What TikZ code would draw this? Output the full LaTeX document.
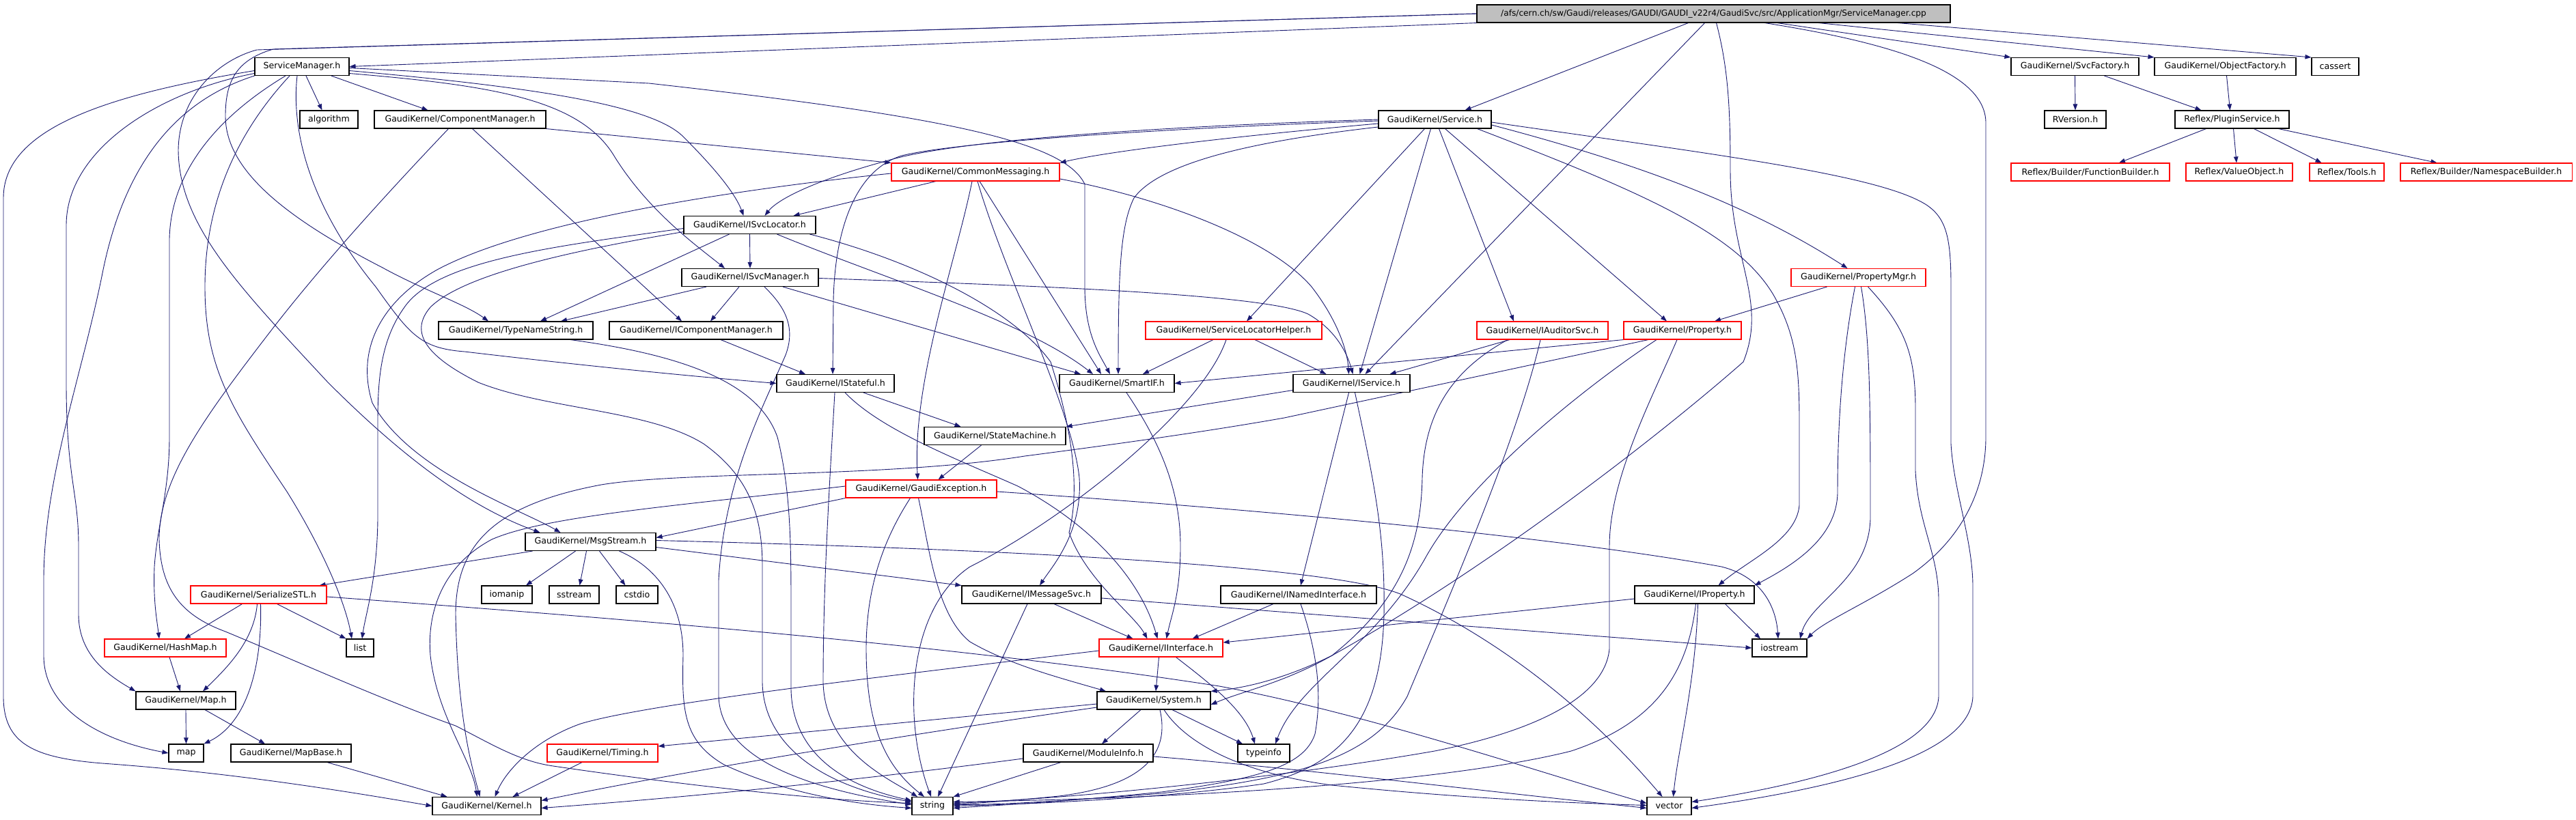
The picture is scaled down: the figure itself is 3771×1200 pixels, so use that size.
\documentclass[tikz,border=0pt]{standalone}
\usepackage{fontspec}
\setmainfont{DejaVu Sans}
\usetikzlibrary{arrows.meta, backgrounds}
\definecolor{edgeblue}{HTML}{191970}
\definecolor{rootgray}{HTML}{BFBFBF}

\begin{document}
\begin{tikzpicture}[
    x=1pt, y=-1pt,
    >={Triangle[length=9pt,width=6.5pt]},
    hdr/.style={draw=black, line width=1.1pt, fill=white, inner sep=0pt,
                minimum height=26pt, font=\fontsize{12.6}{14}\selectfont},
    miss/.style={hdr, draw=red},
    src/.style={hdr, fill=rootgray, font=\fontsize{12.2}{14}\selectfont},
    inc/.style={->, edgeblue, line width=0.9pt}
]
    \useasboundingbox (0,0) rectangle (3771,1200);

    % --- the file and its direct includes ---
    \node[src, minimum width=693] (root) at (2508.5,20) {/afs/cern.ch/sw/Gaudi/releases/GAUDI/GAUDI\_v22r4/GaudiSvc/src/ApplicationMgr/ServiceManager.cpp};
    \node[hdr, minimum width=138] (SM) at (442,97.5) {ServiceManager.h};
    \node[hdr, minimum width=187] (SvcFac) at (3037.5,97.5) {GaudiKernel/SvcFactory.h};
    \node[hdr, minimum width=207] (ObjFac) at (3257.5,97.5) {GaudiKernel/ObjectFactory.h};
    \node[hdr, minimum width=69] (cassert) at (3418.5,97.5) {cassert};

    % --- row 2 ---
    \node[hdr, minimum width=85] (algo) at (481.5,175) {algorithm};
    \node[hdr, minimum width=251] (CompMgr) at (673.5,175) {GaudiKernel/ComponentManager.h};
    \node[hdr, minimum width=165] (Svc) at (2100.5,175) {GaudiKernel/Service.h};
    \node[hdr, minimum width=90] (RVer) at (3038,175) {RVersion.h};
    \node[hdr, minimum width=167] (Plugin) at (3267.5,175) {Reflex/PluginService.h};

    % --- row 3 ---
    \node[miss, minimum width=246] (CMsg) at (1428,252) {GaudiKernel/CommonMessaging.h};
    \node[miss, minimum width=232] (FuncB) at (3060,252) {Reflex/Builder/FunctionBuilder.h};
    \node[miss, minimum width=156] (ValObj) at (3278,252) {Reflex/ValueObject.h};
    \node[miss, minimum width=109] (Tools) at (3435.5,252) {Reflex/Tools.h};
    \node[miss, minimum width=251] (NsB) at (3639.5,252) {Reflex/Builder/NamespaceBuilder.h};

    % --- row 4 and 5 ---
    \node[hdr, minimum width=193] (ISL) at (1097.5,329.5) {GaudiKernel/ISvcLocator.h};
    \node[hdr, minimum width=200] (ISM) at (1098,406.5) {GaudiKernel/ISvcManager.h};
    \node[miss, minimum width=197] (PMgr) at (2720.5,406.5) {GaudiKernel/PropertyMgr.h};

    % --- row 6 ---
    \node[hdr, minimum width=226] (TNS) at (755,484) {GaudiKernel/TypeNameString.h};
    \node[hdr, minimum width=254] (ICM) at (1019,484) {GaudiKernel/IComponentManager.h};
    \node[miss, minimum width=258] (SLH) at (1806,484) {GaudiKernel/ServiceLocatorHelper.h};
    \node[miss, minimum width=192] (IAud) at (2258,484) {GaudiKernel/IAuditorSvc.h};
    \node[miss, minimum width=172] (Prop) at (2463,484) {GaudiKernel/Property.h};

    % --- row 7 ---
    \node[hdr, minimum width=172] (IStat) at (1223,561.5) {GaudiKernel/IStateful.h};
    \node[hdr, minimum width=168] (Smart) at (1635,561.5) {GaudiKernel/SmartIF.h};
    \node[hdr, minimum width=171] (ISvc) at (1978.5,561.5) {GaudiKernel/IService.h};

    % --- rows 8 to 10 ---
    \node[hdr, minimum width=207] (SMach) at (1456.5,638.5) {GaudiKernel/StateMachine.h};
    \node[miss, minimum width=221] (GExc) at (1348.5,716) {GaudiKernel/GaudiException.h};
    \node[hdr, minimum width=191] (Msg) at (864.5,793.5) {GaudiKernel/MsgStream.h};

    % --- row 11 ---
    \node[miss, minimum width=199] (Ser) at (378.5,871) {GaudiKernel/SerializeSTL.h};
    \node[hdr, minimum width=74] (iomanip) at (742,871) {iomanip};
    \node[hdr, minimum width=73] (sstream) at (840.5,871) {sstream};
    \node[hdr, minimum width=61] (cstdio) at (932.5,871) {cstdio};
    \node[hdr, minimum width=204] (IMsg) at (1510,871) {GaudiKernel/IMessageSvc.h};
    \node[hdr, minimum width=228] (INamed) at (1901,871) {GaudiKernel/INamedInterface.h};
    \node[hdr, minimum width=175] (IProp) at (2480.5,871) {GaudiKernel/IProperty.h};

    % --- row 12 ---
    \node[miss, minimum width=178] (HMap) at (242,949) {GaudiKernel/HashMap.h};
    \node[hdr, minimum width=40] (list) at (527,949) {list};
    \node[miss, minimum width=181] (IIf) at (1699.5,949) {GaudiKernel/IInterface.h};
    \node[hdr, minimum width=80] (iostream) at (2605,949) {iostream};

    % --- row 13 and 14 ---
    \node[hdr, minimum width=146] (Map) at (272,1026) {GaudiKernel/Map.h};
    \node[hdr, minimum width=166] (Sys) at (1689,1026) {GaudiKernel/System.h};
    \node[hdr, minimum width=51] (map) at (272.5,1103) {map};
    \node[hdr, minimum width=176] (MapB) at (426,1103) {GaudiKernel/MapBase.h};
    \node[miss, minimum width=162] (Timing) at (882,1103) {GaudiKernel/Timing.h};
    \node[hdr, minimum width=190] (ModInf) at (1593,1103) {GaudiKernel/ModuleInfo.h};
    \node[hdr, minimum width=76] (typeinfo) at (1850,1103) {typeinfo};

    % --- bottom row ---
    \node[hdr, minimum width=159] (Kern) at (712.5,1180.5) {GaudiKernel/Kernel.h};
    \node[hdr, minimum width=60] (string) at (1365,1180.5) {string};
    \node[hdr, minimum width=65] (vector) at (2443.5,1180.5) {vector};

    \begin{scope}[on background layer]
    \fill[white] (0,0) rectangle (3771,1200);

    % --- from the .cpp ---
    \draw[inc] (root.south west) -- (SM.east);
    \draw[inc] (root.west) -- (376,73) .. controls (320,88) and (262,140) .. (261,220) .. controls (262,330) and (350,420) .. (480,560) .. controls (580,660) and (680,740) .. ([xshift=-74pt]Msg.north);
    \draw[inc] (root.west) -- (400,72) .. controls (345,88) and (330,120) .. (330,170) .. controls (330,250) and (420,320) .. (560,392) .. controls (620,425) and (680,445) .. ([xshift=-40pt]TNS.north);
    \draw[inc] ([xshift=-37pt]root.south) -- ([xshift=44pt]Svc.north);
    \draw[inc] ([xshift=-13pt]root.south) -- ([xshift=20pt]ISvc.north);
    \draw[inc] ([xshift=4pt]root.south) .. controls (2530,100) and (2533,160) .. (2533,250) .. controls (2533,380) and (2588,440) .. (2552,530) .. controls (2450,620) and (2200,820) .. (1950,960) .. controls (1880,995) and (1820,1008) .. (Sys.north east);
    \draw[inc] ([xshift=75pt]root.south) .. controls (2750,60) and (2907,100) .. (2907,180) -- (2907,640) .. controls (2907,720) and (2870,790) .. (2800,840) .. controls (2730,885) and (2670,910) .. (iostream.north east);
    \draw[inc] ([xshift=93pt]root.south) -- (SvcFac.north west);
    \draw[inc] ([xshift=154pt]root.south) -- (ObjFac.north west);
    \draw[inc] ([xshift=270pt]root.south) -- (cassert.north west);

    % --- factories and reflex ---
    \draw[inc] (SvcFac.south) -- (RVer.north);
    \draw[inc] ([xshift=43pt]SvcFac.south) -- ([xshift=-45pt]Plugin.north);
    \draw[inc] ([xshift=2pt]ObjFac.south) -- ([xshift=-3pt]Plugin.north);
    \draw[inc] ([xshift=-38pt]Plugin.south) -- ([xshift=42pt]FuncB.north);
    \draw[inc] ([xshift=2pt]Plugin.south) -- ([xshift=-4pt]ValObj.north);
    \draw[inc] ([xshift=32pt]Plugin.south) -- ([xshift=-37pt]Tools.north);
    \draw[inc] ([xshift=68pt]Plugin.south) -- ([xshift=-72pt]NsB.north);

    % --- ServiceManager.h ---
    \draw[inc] ([xshift=6pt]SM.south) -- ([xshift=-10pt]algo.north);
    \draw[inc] ([xshift=43pt]SM.south) -- ([xshift=-47pt]CompMgr.north);
    \draw[inc] ([yshift=-6pt]SM.west) .. controls (150,140) and (5,190) .. (5,290) -- (5,1020) .. controls (5,1090) and (50,1110) .. (150,1118) .. controls (260,1126) and (400,1140) .. (Kern.west);
    \draw[inc] ([yshift=-10pt]SM.west) .. controls (230,135) and (97,220) .. (97,330) -- (97,560) .. controls (97,700) and (115,720) .. (115,800) -- (115,900) .. controls (115,960) and (160,990) .. (Map.north west);
    \draw[inc] (SM.south west) .. controls (250,150) and (180,250) .. (150,400) .. controls (120,550) and (64,700) .. (64,850) -- (64,960) .. controls (64,1040) and (150,1085) .. (map.west);
    \draw[inc] ([xshift=-24pt]SM.south) .. controls (320,170) and (250,250) .. (248,350) -- (248,640) .. controls (248,720) and (230,770) .. (226,830) .. controls (224,880) and (230,910) .. ([xshift=-9pt]HMap.north);
    \draw[inc] ([xshift=-18pt]SM.south) .. controls (360,180) and (300,280) .. (300,420) .. controls (300,540) and (340,600) .. (420,720) .. controls (470,800) and (505,880) .. ([xshift=-12pt]list.north);
    \draw[inc] ([yshift=-6pt]SM.east) .. controls (750,125) and (950,150) .. (1000,200) .. controls (1040,240) and (1075,280) .. ([xshift=-9pt]ISL.north);
    \draw[inc] ([yshift=-10pt]SM.east) .. controls (720,125) and (850,145) .. (900,230) .. controls (950,310) and (1020,360) .. ([xshift=-37pt]ISM.north);
    \draw[inc] ([yshift=-2pt]SM.east) -- (950,122) .. controls (1400,172) and (1560,210) .. (1588,270) -- (1588,420) .. controls (1588,490) and (1610,520) .. ([xshift=-10pt]Smart.north);
    \draw[inc] ([xshift=-7pt]SM.south) .. controls (425,200) and (460,310) .. (550,420) .. controls (600,490) and (615,510) .. (680,515) .. controls (850,535) and (1000,550) .. (IStat.west);

    % --- ComponentManager.h ---
    \draw[inc] (CompMgr.south east) -- (CMsg.north west);
    \draw[inc] ([xshift=18pt]CompMgr.south) -- ([xshift=-21pt]ICM.north);
    \draw[inc] ([xshift=-17pt]CompMgr.south) .. controls (560,290) and (470,390) .. (400,480) .. controls (300,610) and (233,700) .. (233,790) .. controls (235,860) and (262,900) .. (330,925) .. controls (450,975) and (560,1025) .. (667,1063) .. controls (720,1090) and (760,1115) .. (810,1122) .. controls (1000,1150) and (1200,1172) .. ([yshift=4pt]string.west);

    % --- CommonMessaging.h ---
    \draw[inc] ([xshift=-58pt]CMsg.south) -- ([xshift=64pt]ISL.north);
    \draw[inc] ([xshift=-5pt]CMsg.south) .. controls (1400,380) and (1335,560) .. ([xshift=-5pt]GExc.north);
    \draw[inc] ([xshift=3pt]CMsg.south) .. controls (1470,400) and (1570,600) .. (1580,700) .. controls (1585,780) and (1540,830) .. ([xshift=12pt]IMsg.north);
    \draw[inc] ([xshift=6pt]CMsg.south) -- ([xshift=-23pt]Smart.north);
    \draw[inc] ([yshift=-10pt]CMsg.east) .. controls (1700,290) and (1860,350) .. (1920,420) .. controls (1955,465) and (1972,510) .. ([xshift=-4pt]ISvc.north);
    \draw[inc] ([yshift=-2pt]CMsg.west) .. controls (1100,275) and (780,320) .. (640,395) .. controls (560,440) and (520,510) .. (545,590) .. controls (600,690) and (760,745) .. ([xshift=-44pt]Msg.north);

    % --- ISvcLocator.h ---
    \draw[inc] (ISL.south) -- (ISM.north);
    \draw[inc] ([xshift=-30pt]ISL.south) -- ([xshift=36pt]TNS.north);
    \draw[inc] ([xshift=40pt]ISL.south) .. controls (1300,410) and (1500,470) .. ([xshift=-35pt]Smart.north);
    \draw[inc] ([xshift=88pt]ISL.south) .. controls (1330,380) and (1480,450) .. (1538,530) .. controls (1560,600) and (1585,700) .. (1565,780) .. controls (1590,850) and (1660,900) .. ([xshift=-20pt]IIf.north);
    \draw[inc] ([yshift=-5pt]ISL.west) .. controls (820,360) and (640,380) .. (592,450) .. controls (556,500) and (553,560) .. (553,620) -- (553,760) .. controls (552,850) and (535,900) .. ([xshift=3pt]list.north);
    \draw[inc] ([yshift=-10pt]ISL.west) .. controls (850,365) and (680,400) .. (630,450) .. controls (600,485) and (620,520) .. (700,560) .. controls (800,600) and (950,600) .. (1030,650) .. controls (1100,700) and (1116,760) .. (1116,830) -- (1116,1000) .. controls (1118,1090) and (1200,1150) .. ([yshift=6pt]string.west);

    % --- ISvcManager.h ---
    \draw[inc] ([xshift=-16pt]ISM.south) -- ([xshift=21pt]ICM.north);
    \draw[inc] ([xshift=-64pt]ISM.south) -- ([xshift=66pt]TNS.north);
    \draw[inc] ([xshift=48pt]ISM.south) -- ([xshift=-53pt]Smart.north);
    \draw[inc] ([yshift=-1pt]ISM.east) .. controls (1500,418) and (1850,430) .. (1915,460) .. controls (1950,480) and (1970,510) .. ([xshift=2pt]ISvc.north);
    \draw[inc] ([xshift=21pt]ISM.south) .. controls (1150,450) and (1165,480) .. (1150,520) .. controls (1120,590) and (1060,700) .. (1052,850) -- (1052,1020) .. controls (1055,1100) and (1150,1150) .. ([yshift=2pt]string.west);

    % --- TypeNameString.h, IComponentManager.h, IStateful.h, SmartIF.h ---
    \draw[inc] ([xshift=80pt]TNS.south) .. controls (1000,520) and (1110,560) .. (1138,640) .. controls (1158,720) and (1158,800) .. (1158,900) -- (1158,1010) .. controls (1160,1100) and (1230,1150) .. ([yshift=8pt]string.west);
    \draw[inc] ([xshift=36pt]ICM.south) -- ([xshift=-44pt]IStat.north);
    \draw[inc] ([xshift=41pt]IStat.south) -- ([xshift=-50pt]SMach.north);
    \draw[inc] ([xshift=-1pt]IStat.south) .. controls (1215,700) and (1205,850) .. (1205,1000) .. controls (1208,1100) and (1300,1140) .. ([xshift=-22pt]string.north);
    \draw[inc] ([xshift=14pt]IStat.south) .. controls (1290,630) and (1400,672) .. (1490,712) .. controls (1600,770) and (1670,850) .. ([xshift=-5pt]IIf.north);
    \draw[inc] ([xshift=14pt]Smart.south) .. controls (1700,650) and (1728,720) .. (1728,800) .. controls (1728,870) and (1715,900) .. ([xshift=8pt]IIf.north);

    % --- ServiceLocatorHelper.h, StateMachine.h ---
    \draw[inc] ([xshift=-30pt]SLH.south) -- ([xshift=38pt]Smart.north);
    \draw[inc] ([xshift=31pt]SLH.south) -- ([xshift=-37pt]ISvc.north);
    \draw[inc] ([xshift=-11pt]SLH.south) .. controls (1760,600) and (1560,760) .. (1420,830) .. controls (1330,890) and (1320,1050) .. ([xshift=-2pt]string.north);
    \draw[inc] ([xshift=-20pt]SMach.south) -- ([xshift=25pt]GExc.north);

    % --- GaudiException.h ---
    \draw[inc] (GExc.south west) -- ([yshift=6pt]Msg.east);
    \draw[inc] ([yshift=4pt]GExc.west) .. controls (1000,740) and (800,755) .. (720,790) .. controls (645,830) and (625,900) .. (630,960) .. controls (640,1050) and (690,1110) .. ([xshift=-14pt]Kern.north);
    \draw[inc] ([xshift=-16pt]GExc.south) .. controls (1300,780) and (1268,850) .. (1268,950) .. controls (1268,1070) and (1300,1125) .. ([xshift=-12pt]string.north);
    \draw[inc] ([xshift=-4pt]GExc.south) .. controls (1360,800) and (1370,900) .. (1420,940) .. controls (1480,975) and (1560,995) .. ([xshift=-70pt]Sys.north);
    \draw[inc] ([yshift=-4pt]GExc.east) .. controls (1900,750) and (2300,790) .. (2520,830) .. controls (2580,845) and (2600,890) .. ([xshift=-2pt]iostream.north);

    % --- MsgStream.h ---
    \draw[inc] ([xshift=-85pt]Msg.south) -- ([xshift=-11pt]Ser.north east);
    \draw[inc] ([xshift=-22pt]Msg.south) -- ([xshift=28pt]iomanip.north);
    \draw[inc] ([xshift=-6pt]Msg.south) -- ([xshift=8pt]sstream.north);
    \draw[inc] ([xshift=13pt]Msg.south) -- ([xshift=-17pt]cstdio.north);
    \draw[inc] ([yshift=-8pt]Msg.east) -- (IMsg.north west);
    \draw[inc] ([xshift=42pt]Msg.south) .. controls (960,830) and (1000,880) .. (1000,960) .. controls (998,1040) and (1000,1085) .. (1060,1120) .. controls (1150,1162) and (1250,1178) .. ([yshift=-3pt]string.west);
    \draw[inc] ([yshift=2pt]Msg.east) .. controls (1500,805) and (1950,830) .. (2050,870) .. controls (2160,920) and (2300,1010) .. ([xshift=-10pt]vector.north);

    % --- SerializeSTL.h and the maps ---
    \draw[inc] ([xshift=-24pt]Ser.south) -- ([xshift=28pt]HMap.north);
    \draw[inc] ([xshift=-2pt]Ser.south) .. controls (372,940) and (330,980) .. ([xshift=25pt]Map.north);
    \draw[inc] ([xshift=3pt]Ser.south) .. controls (384,980) and (360,1060) .. (map.north east);
    \draw[inc] ([xshift=27pt]Ser.south) -- (list.north west);
    \draw[inc] ([yshift=-3pt]Ser.east) .. controls (900,905) and (1400,945) .. (1785,1005) .. controls (2000,1045) and (2250,1130) .. ([yshift=4pt]vector.west);
    \draw[inc] ([xshift=6pt]HMap.south) -- ([xshift=-8pt]Map.north);
    \draw[inc] (Map.south) -- (map.north);
    \draw[inc] ([xshift=28pt]Map.south) -- ([xshift=-38pt]MapB.north);
    \draw[inc] ([xshift=53pt]MapB.south) -- ([xshift=-58pt]Kern.north);

    % --- IMessageSvc.h, INamedInterface.h, IService.h ---
    \draw[inc] ([xshift=33pt]IMsg.south) -- ([xshift=-41pt]IIf.north);
    \draw[inc] ([xshift=-6pt]IMsg.south) -- ([xshift=8pt]string.north);
    \draw[inc] ([yshift=-5pt]IMsg.east) -- (iostream.west);
    \draw[inc] ([xshift=-37pt]INamed.south) -- ([xshift=46pt]IIf.north);
    \draw[inc] ([xshift=3pt]INamed.south) .. controls (1930,960) and (1935,1020) .. (1925,1075) .. controls (1910,1120) and (1850,1140) .. (1700,1160) .. controls (1550,1175) and (1450,1180) .. ([yshift=-3pt]string.east);
    \draw[inc] ([xshift=-4pt]ISvc.south) -- ([xshift=3pt]INamed.north);
    \draw[inc] ([yshift=-10pt]ISvc.west) -- (SMach.north east);
    \draw[inc] ([xshift=5pt]ISvc.south) .. controls (2010,700) and (2028,780) .. (2026,900) .. controls (2022,1060) and (1960,1120) .. (1850,1148) .. controls (1700,1170) and (1500,1178) .. (string.east);

    % --- IAuditorSvc.h ---
    \draw[inc] ([xshift=-48pt]IAud.south) -- ([xshift=56pt]ISvc.north);
    \draw[inc] ([xshift=-51pt]IAud.south) .. controls (2130,540) and (2085,600) .. (2082,700) .. controls (2080,800) and (2050,880) .. (1950,960) .. controls (1880,1000) and (1820,1012) .. ([yshift=-6pt]Sys.east);
    \draw[inc] ([xshift=-3pt]IAud.south) .. controls (2220,650) and (2110,900) .. (2060,1020) .. controls (2010,1110) and (1900,1140) .. (1700,1162) .. controls (1550,1174) and (1450,1179) .. ([yshift=2pt]string.east);

    % --- Property.h, PropertyMgr.h ---
    \draw[inc] (Prop.south west) -- (Smart.east);
    \draw[inc] ([xshift=-50pt]Prop.south) -- (1880,612) .. controls (1750,635) and (1600,655) .. (1500,668) .. controls (1300,700) and (1000,690) .. (880,710) .. controls (720,740) and (667,800) .. (667,900) .. controls (670,1050) and (690,1120) .. ([xshift=-10pt]Kern.north);
    \draw[inc] ([xshift=-38pt]Prop.south) .. controls (2330,560) and (2150,700) .. (2085,820) .. controls (2010,950) and (1900,1000) .. ([xshift=17pt]typeinfo.north);
    \draw[inc] ([xshift=-8pt]Prop.south) .. controls (2420,580) and (2356,700) .. (2356,800) -- (2356,950) .. controls (2350,1020) and (2250,1070) .. (2100,1100) .. controls (1900,1135) and (1600,1168) .. ([yshift=4pt]string.east);
    \draw[inc] ([xshift=-46pt]PMgr.south) -- ([xshift=47pt]Prop.north);
    \draw[inc] ([xshift=-5pt]PMgr.south) .. controls (2700,500) and (2690,600) .. (2690,720) .. controls (2690,790) and (2620,830) .. (IProp.north east);
    \draw[inc] ([xshift=4pt]PMgr.south) .. controls (2738,500) and (2738,600) .. (2738,760) .. controls (2735,850) and (2650,880) .. ([xshift=30pt]iostream.north);
    \draw[inc] ([xshift=14pt]PMgr.south) .. controls (2790,480) and (2804,520) .. (2804,600) -- (2804,690) .. controls (2808,770) and (2838,810) .. (2838,880) -- (2838,1020) .. controls (2835,1090) and (2700,1140) .. ([yshift=6pt]vector.east);

    % --- Service.h ---
    \draw[inc] (Svc.west) .. controls (1700,185) and (1400,205) .. (1300,235) .. controls (1200,262) and (1140,290) .. ([xshift=22pt]ISL.north);
    \draw[inc] ([yshift=-6pt]Svc.west) .. controls (1800,200) and (1620,222) .. (CMsg.north east);
    \draw[inc] ([yshift=-2pt]Svc.west) .. controls (1700,188) and (1400,208) .. (1320,228) .. controls (1250,250) and (1222,340) .. (1220,440) -- ([xshift=-4pt]IStat.north);
    \draw[inc] ([yshift=-11pt]Svc.west) .. controls (1850,205) and (1700,235) .. (1660,290) .. controls (1640,330) and (1637,400) .. ([xshift=2pt]Smart.north);
    \draw[inc] ([xshift=-15pt]Svc.south) -- ([xshift=19pt]SLH.north);
    \draw[inc] ([xshift=-6pt]Svc.south) -- ([xshift=12pt]ISvc.north);
    \draw[inc] ([xshift=6pt]Svc.south) -- ([xshift=-42pt]IAud.north);
    \draw[inc] ([xshift=15pt]Svc.south) -- ([xshift=-23pt]Prop.north);
    \draw[inc] ([yshift=-8pt]Svc.east) .. controls (2400,240) and (2560,300) .. ([xshift=-16pt]PMgr.north);
    \draw[inc] ([xshift=62pt]Svc.south) .. controls (2400,280) and (2540,340) .. (2595,430) .. controls (2630,490) and (2634,540) .. (2634,620) -- (2634,740) .. controls (2630,790) and (2560,820) .. ([xshift=35pt]IProp.north);
    \draw[inc] ([yshift=-4pt]Svc.east) .. controls (2500,225) and (2750,255) .. (2820,300) .. controls (2850,320) and (2856,350) .. (2856,420) -- (2856,650) .. controls (2860,720) and (2888,790) .. (2888,860) -- (2888,1020) .. controls (2885,1100) and (2720,1150) .. ([yshift=-3pt]vector.east);

    % --- IProperty.h ---
    \draw[inc] ([yshift=-6pt]IProp.west) -- ([yshift=8pt]IIf.east);
    \draw[inc] ([xshift=45pt]IProp.south) -- ([xshift=-28pt]iostream.north);
    \draw[inc] ([xshift=5pt]IProp.south) .. controls (2482,1000) and (2456,1100) .. ([xshift=6pt]vector.north);
    \draw[inc] ([xshift=2pt]IProp.south) .. controls (2470,990) and (2420,1060) .. (2300,1100) .. controls (2100,1150) and (1700,1170) .. ([yshift=6pt]string.east);

    % --- IInterface.h ---
    \draw[inc] ([xshift=-3pt]IIf.south) -- ([xshift=3pt]Sys.north);
    \draw[inc] ([xshift=22pt]IIf.south) .. controls (1770,1000) and (1822,1040) .. ([xshift=-13pt]typeinfo.north);
    \draw[inc] ([yshift=-4pt]IIf.west) .. controls (1300,990) and (950,1030) .. (850,1060) .. controls (780,1085) and (740,1130) .. ([xshift=12pt]Kern.north);

    % --- System.h, ModuleInfo.h, Timing.h ---
    \draw[inc] ([yshift=-5pt]Sys.west) -- ([yshift=10pt]Timing.east);
    \draw[inc] ([xshift=-19pt]Sys.south) -- ([xshift=20pt]ModInf.north);
    \draw[inc] ([xshift=27pt]Sys.south) -- ([xshift=-31pt]typeinfo.north);
    \draw[inc] ([yshift=-10pt]Sys.west) .. controls (1300,1080) and (1000,1130) .. ([yshift=8pt]Kern.east);
    \draw[inc] ([xshift=9pt]Sys.south) .. controls (1712,1100) and (1680,1150) .. (1550,1166) .. controls (1480,1173) and (1420,1177) .. ([yshift=2pt]string.east);
    \draw[inc] ([xshift=15pt]Sys.south) .. controls (1730,1080) and (1800,1130) .. (1950,1150) .. controls (2150,1170) and (2300,1176) .. ([yshift=1pt]vector.west);
    \draw[inc] ([yshift=-8pt]ModInf.west) .. controls (1200,1150) and (950,1172) .. ([yshift=-3pt]Kern.east);
    \draw[inc] ([xshift=-40pt]ModInf.south) -- (string.north east);
    \draw[inc] ([yshift=-5pt]ModInf.east) .. controls (1900,1125) and (2200,1162) .. ([yshift=-3pt]vector.west);
    \draw[inc] ([xshift=-30pt]Timing.south) -- ([xshift=38pt]Kern.north);
    \end{scope}
\end{tikzpicture}
\end{document}
